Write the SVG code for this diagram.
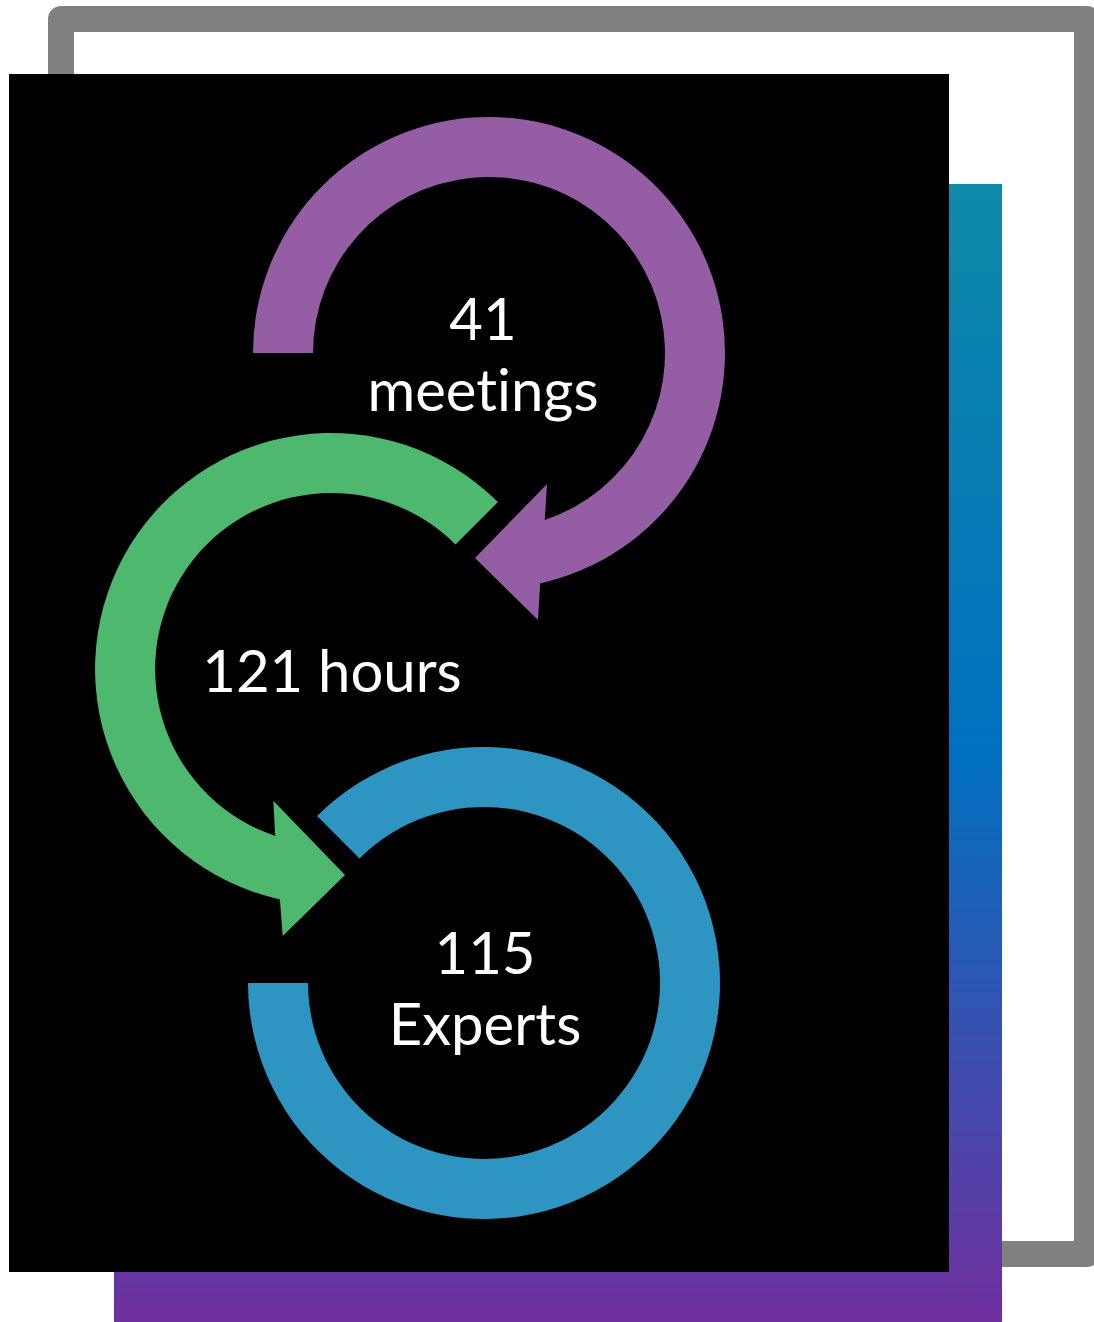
<svg xmlns="http://www.w3.org/2000/svg" width="1094" height="1322" viewBox="0 0 1094 1322">
  <defs>
    <linearGradient id="bandGrad" x1="0" y1="184" x2="0" y2="1322" gradientUnits="userSpaceOnUse">
      <stop offset="0" stop-color="#0E89A8"/>
      <stop offset="0.5" stop-color="#0070C0"/>
      <stop offset="1" stop-color="#7030A0"/>
    </linearGradient>
  </defs>
  <style>
    .label { font-family: Lato, "Open Sans", "Noto Sans", sans-serif; font-size: 58px; fill: #FFFFFF; text-anchor: middle; font-variant-ligatures: none; font-feature-settings: "liga" 0; }
    .purple { fill: #955DA4; }
    .green { fill: #4FB86F; }
    .blue { fill: #2E95C2; }
  </style>
  <rect x="0" y="0" width="1094" height="1322" fill="#FFFFFF"/>
  <g id="background">
    <rect id="frame" x="61" y="19" width="1026" height="1235" fill="#FFFFFF" stroke="#808080" stroke-width="26" stroke-linejoin="round"/>
    <rect id="band" x="114" y="184" width="888" height="1138" fill="url(#bandGrad)"/>
    <rect id="panel" x="9" y="74" width="940" height="1198" fill="#000000"/>
  </g>
  <g id="connectors"/>
  <g id="node-meetings">
    <path class="purple" d="M253,353 A236,236 0 1 1 540.1,583.4 L538,620 L475,558 L547,484 L544.8,519.9 A176,176 0 1 0 313,353 Z"/>
    <text class="label" x="483" y="340">41</text>
    <text class="label" x="483" y="411">meetings</text>
  </g>
  <g id="node-hours">
    <path class="green" d="M497.9,502.1 A236,236 0 1 0 279.9,899.4 L282.7,936 L345,875 L273.3,800.7 L275.2,835.9 A176,176 0 1 1 455.5,544.5 Z"/>
    <text class="label" x="332" y="692">121 hours</text>
  </g>
  <g id="node-experts">
    <path class="blue" d="M248,983 A236,236 0 1 0 317.1,816.1 L359.5,858.5 A176,176 0 1 1 308,983 Z"/>
    <text class="label" x="485" y="974">115</text>
    <text class="label" x="485" y="1045">Experts</text>
  </g>
</svg>
